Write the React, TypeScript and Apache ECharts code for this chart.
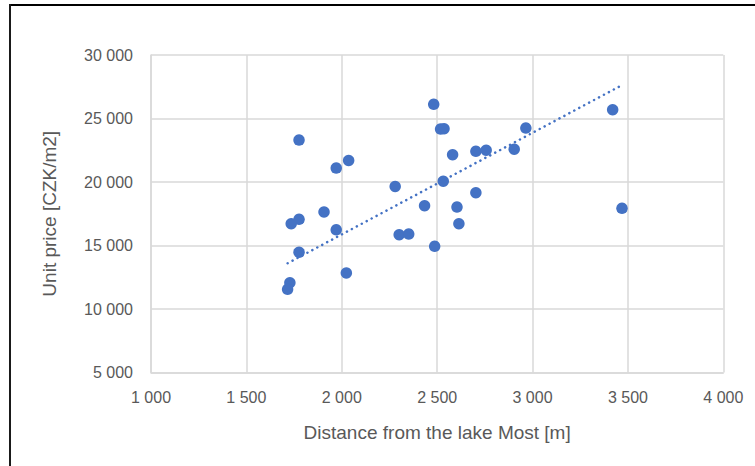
import React, { useEffect, useRef } from "react";
import * as echarts from "echarts";

// Data
const distance = [1776, 1971, 2036, 2280, 2434, 1907, 1776, 1735, 1971, 1776, 2301, 2351, 2024, 1728, 1716, 2482, 2518, 2536, 2581, 2703, 2757, 2904, 2965, 3420, 2532, 2703, 2604, 3469, 2614, 2487];
const price = [23300, 21100, 21700, 19650, 18130, 17640, 17060, 16720, 16240, 14470, 15850, 15900, 12840, 12070, 11550, 26120, 24170, 24200, 22150, 22420, 22500, 22580, 24250, 25690, 20060, 19160, 18030, 17930, 16720, 14940];

// Linear trendline end points (as drawn)
const trendX = [1716, 3463];
const trendY = [13600, 27580];

const X_MIN = 1000;
const X_MAX = 4000;
const X_STEP = 500;
const Y_MIN = 5000;
const Y_MAX = 30000;
const Y_STEP = 5000;
const xTickLabels = ["1 000", "1 500", "2 000", "2 500", "3 000", "3 500", "4 000"];
const yTickLabels = ["5 000", "10 000", "15 000", "20 000", "25 000", "30 000"];

const xTitle = "Distance from the lake Most [m]";
const yTitle = "Unit price [CZK/m2]";

const FONT = "'Liberation Sans', Arial, sans-serif";
const TEXT_COLOR = "#595959";
const GRID_COLOR = "#d9d9d9";
const POINT_COLOR = "#4472C4";

export default function App() {
  const ref = useRef<HTMLDivElement>(null);

  useEffect(() => {
    if (!ref.current) return;
    const chart = echarts.init(ref.current, undefined, { renderer: "svg" });
    const points = distance.map((d, i) => [d, price[i]]);
    const trend = trendX.map((x, i) => [x, trendY[i]]);
    chart.setOption({
      animation: false,
      backgroundColor: "#ffffff",
      grid: {
        left: 151,
        right: 31.7,
        top: 55,
        bottom: 93.5,
        outerBoundsMode: "none",
      },
      xAxis: {
        type: "value",
        min: X_MIN,
        max: X_MAX,
        interval: X_STEP,
        name: xTitle,
        nameLocation: "middle",
        nameGap: 50,
        nameTextStyle: { fontSize: 19, color: TEXT_COLOR, fontFamily: FONT },
        axisLine: { show: true, lineStyle: { color: GRID_COLOR, width: 1.5 } },
        axisTick: { show: false },
        axisLabel: {
          margin: 17,
          fontSize: 16,
          color: TEXT_COLOR,
          fontFamily: FONT,
          formatter: (v: number) => xTickLabels[Math.round((v - X_MIN) / X_STEP)] ?? "",
        },
        splitLine: { show: true, lineStyle: { color: GRID_COLOR, width: 1.5 } },
      },
      yAxis: {
        type: "value",
        min: Y_MIN,
        max: Y_MAX,
        interval: Y_STEP,
        name: yTitle,
        nameLocation: "middle",
        nameGap: 92,
        nameRotate: 90,
        nameTextStyle: { fontSize: 19, color: TEXT_COLOR, fontFamily: FONT },
        axisLine: { show: true, lineStyle: { color: GRID_COLOR, width: 1.5 } },
        axisTick: { show: false },
        axisLabel: {
          margin: 18,
          fontSize: 16,
          color: TEXT_COLOR,
          fontFamily: FONT,
          formatter: (v: number) => yTickLabels[Math.round((v - Y_MIN) / Y_STEP)] ?? "",
        },
        splitLine: { show: true, lineStyle: { color: GRID_COLOR, width: 1.5 } },
      },
      series: [
        {
          type: "scatter",
          data: points,
          symbol: "circle",
          symbolSize: 11.5,
          itemStyle: { color: POINT_COLOR, opacity: 1 },
          z: 2,
        },
        {
          type: "line",
          data: trend,
          symbol: "none",
          lineStyle: {
            color: POINT_COLOR,
            width: 2.5,
            type: [0.1, 5.5],
            cap: "round",
          },
          z: 3,
        },
      ],
      graphic: [
        {
          type: "line",
          shape: { x1: 9, y1: 5, x2: 755, y2: 5 },
          style: { stroke: "#000000", lineWidth: 2 },
        },
        {
          type: "line",
          shape: { x1: 10, y1: 4, x2: 10, y2: 466 },
          style: { stroke: "#1a1a1a", lineWidth: 2 },
        },
      ],
    });
    return () => chart.dispose();
  }, []);

  return (
    <div
      ref={ref}
      style={{ position: "absolute", left: 0, top: 0, width: 755, height: 466 }}
    />
  );
}
